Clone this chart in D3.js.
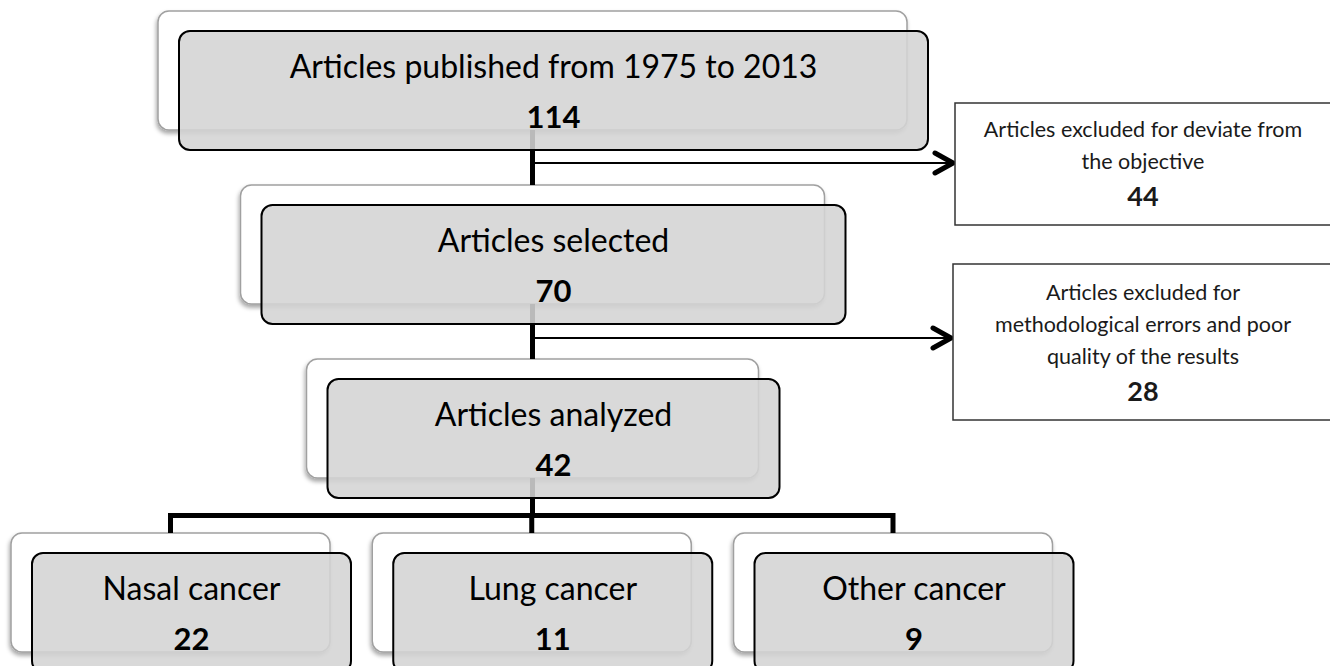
<!DOCTYPE html>
<html>
<head>
<meta charset="utf-8">
<script src="https://cdn.jsdelivr.net/npm/d3@7"></script>
<style>
  html, body { margin: 0; padding: 0; background: #fff; }
  svg { display: block; font-family: Lato, "Open Sans", sans-serif; }
</style>
</head>
<body>
<svg id="chart" width="1330" height="666"></svg>
<script>
// flow steps (top to bottom)
const stepLabels = ["Articles published from 1975 to 2013", "Articles selected", "Articles analyzed"];
const stepCounts = [114, 70, 42];
// exclusions between steps
const excludedLabels = [
    ["Articles excluded for deviate from", "the objective"],
    ["Articles excluded for", "methodological errors and poor", "quality of the results"]
];
const excludedCounts = [44, 28];
// final split by cancer type
const cancerLabels = ["Nasal cancer", "Lung cancer", "Other cancer"];
const cancerCounts = [22, 11, 9];

const svg = d3.select("#chart");
const W = 1330, H = 666;

// layout
const rowY = d3.scaleLinear().domain([0, 3]).range([31, 553]);   // top of front box per row
const stepW = [749, 584, 452];
const boxH = 119;
const cx = 553.5;                       // centre of front boxes
const off = { x: -21, y: -20 };         // back (white) box offset
const leafX = d3.scalePoint().domain(cancerLabels).range([191.5, 914]); // leaf centres
const leafW = 319;

const defs = svg.append("defs");
const f = defs.append("filter").attr("id", "shadow").attr("x", "-10%").attr("y", "-10%").attr("width", "120%").attr("height", "130%");
f.append("feDropShadow").attr("dx", -1).attr("dy", 3).attr("stdDeviation", 2).attr("flood-color", "#000").attr("flood-opacity", 0.35);
defs.append("marker").attr("id", "chev")
    .attr("viewBox", "0 0 24 26").attr("refX", 22).attr("refY", 13)
    .attr("markerWidth", 24).attr("markerHeight", 26).attr("markerUnits", "userSpaceOnUse")
    .attr("orient", "auto")
  .append("path").attr("d", "M3,3 L21,13 L3,23")
    .attr("fill", "none").attr("stroke", "#000").attr("stroke-width", 5).attr("stroke-linecap", "round").attr("stroke-linejoin", "round");

// all main boxes as one list
const boxes = stepLabels.map((l, i) => ({ label: l, count: stepCounts[i], x: cx - stepW[i] / 2, y: rowY(i), w: stepW[i] }))
    .concat(cancerLabels.map((l, i) => ({ label: l, count: cancerCounts[i], x: leafX(l) - leafW / 2, y: rowY(3), w: leafW })));
boxes.forEach(b => { b.bx = b.x + off.x; b.by = b.y + off.y; b.bcx = b.bx + b.w / 2; });

// back boxes
svg.append("g").selectAll("rect").data(boxes).join("rect")
    .attr("x", d => d.bx).attr("y", d => d.by)
    .attr("width", d => d.w).attr("height", boxH)
    .attr("rx", 11)
    .attr("fill", "#fff").attr("stroke", "#a0a0a0").attr("stroke-width", 1.5)
    .attr("filter", "url(#shadow)");

// connectors
const lines = svg.append("g").attr("stroke", "#000").attr("fill", "none");
const trunkX = boxes[0].bcx;
for (let i = 0; i < 2; i++) {
    lines.append("line")
        .attr("x1", trunkX).attr("x2", trunkX)
        .attr("y1", boxes[i].by + boxH).attr("y2", boxes[i + 1].by)
        .attr("stroke-width", 5);
}
const leaves = boxes.slice(3);
const barY = 515.5;
lines.append("line").attr("x1", trunkX).attr("x2", trunkX)
    .attr("y1", boxes[2].by + boxH).attr("y2", barY).attr("stroke-width", 5);
lines.append("path")
    .attr("d", `M${leaves[0].bcx},${leaves[0].by} V${barY} H${leaves[2].bcx} V${leaves[2].by}`)
    .attr("stroke-width", 5).attr("stroke-linejoin", "miter");
lines.append("line").attr("x1", leaves[1].bcx).attr("x2", leaves[1].bcx)
    .attr("y1", barY).attr("y2", leaves[1].by).attr("stroke-width", 5);

// exclusion boxes
const excl = [
    { lines: excludedLabels[0], count: excludedCounts[0], x: 955, y: 103, h: 122, arrowY: 163, firstDy: 34 },
    { lines: excludedLabels[1], count: excludedCounts[1], x: 953, y: 264, h: 156, arrowY: 338, firstDy: 36 }
];
const lineH = 32;
excl.forEach(e => {
    lines.append("line")
        .attr("x1", trunkX).attr("x2", e.x - 1)
        .attr("y1", e.arrowY).attr("y2", e.arrowY)
        .attr("stroke-width", 2).attr("marker-end", "url(#chev)");
    const g = svg.append("g");
    g.append("rect").attr("x", e.x).attr("y", e.y).attr("width", W - e.x + 10).attr("height", e.h)
        .attr("fill", "#fff").attr("stroke", "#333").attr("stroke-width", 1.5);
    const tx = 1143;
    g.selectAll("text.l").data(e.lines).join("text").attr("class", "l")
        .attr("x", tx).attr("y", (d, i) => e.y + e.firstDy + i * lineH)
        .attr("text-anchor", "middle").attr("font-size", 21.5).attr("fill", "#1a1a1a")
        .text(d => d);
    g.append("text")
        .attr("x", tx).attr("y", e.y + e.firstDy + e.lines.length * lineH + 5)
        .attr("text-anchor", "middle").attr("font-size", 27).attr("font-weight", "bold").attr("fill", "#1a1a1a")
        .text(e.count);
});

// front boxes
const front = svg.append("g").selectAll("g").data(boxes).join("g");
front.append("rect")
    .attr("x", d => d.x).attr("y", d => d.y)
    .attr("width", d => d.w).attr("height", boxH)
    .attr("rx", 11)
    .attr("fill", "#d4d4d4").attr("fill-opacity", 0.88)
    .attr("stroke", "#000").attr("stroke-width", 2);
front.append("text")
    .attr("x", d => d.x + d.w / 2).attr("y", d => d.y + 47)
    .attr("text-anchor", "middle").attr("font-size", 32).attr("fill", "#000")
    .text(d => d.label);
front.append("text")
    .attr("x", d => d.x + d.w / 2).attr("y", d => d.y + 97)
    .attr("text-anchor", "middle").attr("font-size", 31).attr("font-weight", "bold").attr("fill", "#000")
    .text(d => d.count);
</script>
</body>
</html>
